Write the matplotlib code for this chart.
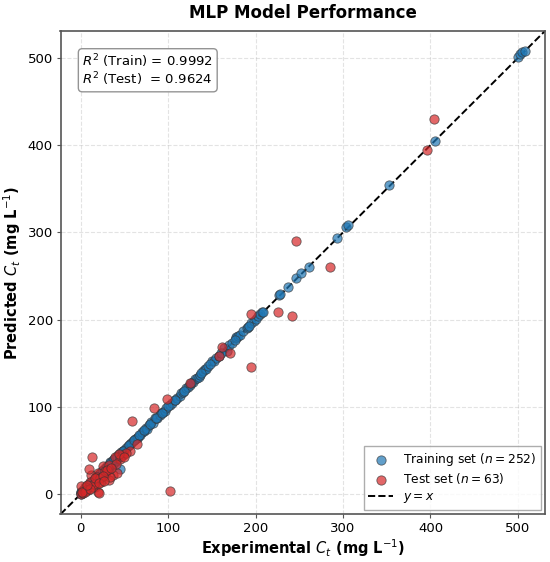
import matplotlib
matplotlib.use("Agg")
import matplotlib.pyplot as plt
import numpy as np

# training set: experimental vs predicted Ct (mg/L)
train_x = [
    0.0, 0.5, 1.0, 1.5, 2.0, 2.5, 3.0, 3.5, 4.0, 5.0, 5.5, 6.0, 7.0, 8.0, 9.0,
    10.0, 11.0, 12.0, 13.0, 14.0, 15.0, 16.0, 17.0, 18.0, 19.0, 20.0, 21.0,
    22.0, 23.0, 24.0, 25.0, 25.5, 26.0, 27.0, 28.0, 29.0, 30.0, 31.0, 32.0,
    33.0, 34.0, 35.0, 36.0, 37.0, 38.0, 39.0, 40.0, 41.0, 42.0, 43.0, 44.0,
    44.7, 45.0, 46.0, 47.0, 48.0, 49.0, 50.0, 52.0, 54.0, 56.0, 58.0, 60.0,
    62.0, 64.0, 65.6, 68.0, 70.0, 72.0, 75.0, 76.0, 78.0, 81.0, 83.0, 84.8,
    87.0, 90.5, 92.0, 94.0, 96.2, 98.0, 102.0, 104.0, 107.7, 110.0, 113.4,
    115.0, 117.0, 121.0, 123.0, 125.0, 128.0, 130.6, 133.0, 135.0, 136.0,
    140.0, 142.0, 143.0, 146.0, 150.7, 152.0, 155.0, 158.0, 164.2, 167.0,
    170.0, 173.0, 177.6, 178.0, 180.2, 182.0, 186.0, 189.7, 191.6, 195.0,
    198.0, 200.5, 203.0, 205.0, 207.7, 226.8, 228.0, 236.7, 246.6, 252.0,
    260.7, 292.8, 303.5, 306.0, 353.0, 404.7, 500.0, 502.0, 505.0, 508.0,
    1.0, 3.0, 6.0, 9.0, 12.0, 15.0, 18.0, 22.0, 26.0, 30.0, 34.0, 38.0, 42.0,
    48.0, 55.0, 61.0, 67.0, 73.0, 79.0, 86.0, 93.0, 100.0, 108.0, 118.0,
    126.0, 138.0, 148.0, 161.0, 176.0, 192.0, 208.0,
]
train_y = [
    1.5, 2.0, 0.5, 3.0, 2.5, 4.0, 2.0, 5.0, 3.5, 6.0, 4.5, 7.5, 6.0, 9.5, 8.0,
    12.0, 10.0, 13.5, 11.5, 15.0, 14.0, 17.0, 15.5, 19.5, 17.0, 22.0, 19.0,
    24.0, 21.0, 26.0, 23.0, 23.0, 28.0, 25.0, 30.5, 27.0, 32.0, 29.0, 34.0,
    31.0, 36.5, 33.0, 38.0, 35.0, 40.0, 37.0, 41.5, 39.0, 44.0, 41.0, 46.0,
    29.0, 44.0, 48.5, 45.0, 50.0, 47.0, 51.0, 53.0, 55.0, 57.0, 58.3, 61.0,
    63.0, 64.0, 65.2, 68.0, 71.0, 72.0, 75.5, 75.0, 79.0, 83.0, 82.0, 86.9,
    87.0, 90.7, 93.0, 94.0, 95.6, 99.0, 102.0, 104.0, 107.9, 110.5, 112.5,
    116.0, 117.5, 121.3, 123.0, 125.5, 128.5, 131.6, 133.0, 134.6, 136.5,
    141.0, 143.4, 143.0, 147.0, 152.6, 153.0, 156.0, 158.0, 167.0, 164.4,
    171.0, 173.0, 178.5, 179.7, 181.6, 183.0, 187.0, 190.0, 191.9, 196.0,
    199.0, 200.3, 204.0, 206.0, 209.0, 227.8, 229.0, 237.7, 248.0, 253.0,
    260.6, 293.8, 306.4, 308.0, 354.0, 405.0, 501.0, 504.0, 507.0, 508.0,
    2.5, 4.5, 8.0, 11.0, 13.0, 16.5, 20.0, 23.5, 27.0, 31.0, 35.5, 40.0, 43.0,
    49.5, 56.0, 62.0, 67.5, 74.0, 80.0, 87.5, 93.5, 101.0, 108.5, 118.5,
    127.0, 139.0, 149.0, 162.0, 176.5, 193.0, 209.0,
]

# test set
test_x = [
    403.6, 396.3, 246.0, 285.6, 225.3, 242.0, 195.0, 194.7, 161.5, 158.4,
    170.7, 124.9, 102.0, 12.5, 59.0, 84.0, 98.5, 56.0, 39.0, 48.5, 25.5,
    33.0, 19.8, 12.2, 29.4, 37.0, 42.0, 10.3, 23.7, 33.0, 4.6, 16.0, 2.7,
    19.8, 8.0, 0.5, 9.5, 14.0, 18.7, 34.0, 1.0, 3.0, 6.0, 22.0, 28.0, 45.0,
    52.0, 40.0, 30.0, 15.0, 5.0, 1.5, 20.5, 17.0, 11.0, 26.0, 35.0, 44.0,
    7.0, 21.0, 50.0, 27.0, 64.0,
]
test_y = [
    429.5, 395.0, 290.0, 260.6, 208.7, 204.5, 206.4, 145.4, 168.3, 158.3,
    161.4, 127.7, 4.0, 42.3, 84.0, 99.0, 108.7, 49.5, 43.0, 45.0, 32.3,
    33.4, 24.0, 22.0, 24.0, 22.0, 24.0, 14.3, 14.3, 16.5, 8.6, 8.6, 2.9,
    2.9, 4.5, 9.0, 28.5, 7.9, 20.0, 20.0, 0.5, 1.5, 5.0, 18.0, 26.0, 40.0,
    47.0, 35.0, 28.0, 12.0, 3.0, 3.0, 1.5, 19.0, 6.0, 21.0, 30.0, 46.0,
    11.0, 13.0, 43.0, 15.0, 58.0,
]

r2_train = 0.9992
r2_test = 0.9624
n_train = 252
n_test = 63
lims = [-23, 531]

fig = plt.figure(figsize=(5.5, 5.62), dpi=100)
ax = fig.add_axes([0.11, 0.085, 0.881, 0.86])

ax.scatter(train_x, train_y, s=45, c="#1f77b4", alpha=0.7,
           edgecolors="#333333", linewidths=0.6,
           label=rf"Training set ($n = {n_train}$)", zorder=3)
ax.scatter(test_x, test_y, s=45, c="#d62728", alpha=0.7,
           edgecolors="#333333", linewidths=0.6,
           label=rf"Test set ($n = {n_test}$)", zorder=4)
ax.plot(lims, lims, "k--", lw=1.4, label=r"$y = x$", zorder=2)

ax.set_xlim(lims)
ax.set_ylim(lims)
ax.set_xticks(np.arange(0, 501, 100))
ax.set_yticks(np.arange(0, 501, 100))
ax.tick_params(labelsize=9.5, length=3, pad=2.5, color="#555555")
ax.grid(True, linestyle="--", alpha=0.35)
for sp in ax.spines.values():
    sp.set_color("#555555")
    sp.set_linewidth(1.2)

ax.set_xlabel(r"Experimental $C_t$ (mg L$^{-1}$)", fontsize=10.5,
              fontweight="bold", labelpad=2)
ax.set_ylabel(r"Predicted $C_t$ (mg L$^{-1}$)", fontsize=10.5,
              fontweight="bold", labelpad=3)
ax.set_title("MLP Model Performance", fontsize=12, fontweight="bold", pad=9)

ax.text(0.045, 0.955,
        f"$R^2$ (Train) = {r2_train:.4f}\n$R^2$ (Test)  = {r2_test:.4f}",
        transform=ax.transAxes, fontsize=9.5, va="top", ha="left",
        linespacing=1.0,
        bbox=dict(boxstyle="round,pad=0.3", facecolor="white",
                  edgecolor="#888888", alpha=0.9))

ax.legend(loc="lower right", fontsize=8.8, frameon=True, edgecolor="#999999",
          fancybox=False, labelspacing=0.3, borderaxespad=0.35)

fig.savefig("out.png", dpi=100)
